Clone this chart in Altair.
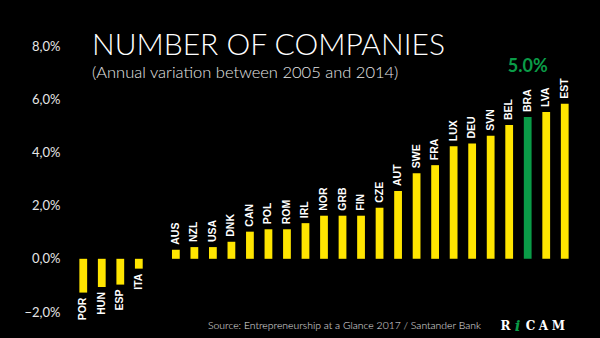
import altair as alt
import pandas as pd

# ---- data ----
countries = ["POR", "HUN", "ESP", "ITA", "AUS", "NZL", "USA", "DNK", "CAN", "POL",
             "ROM", "IRL", "NOR", "GRB", "FIN", "CZE", "AUT", "SWE", "FRA", "LUX",
             "DEU", "SVN", "BEL", "BRA", "LVA", "EST"]
values = [-1.27, -1.06, -0.97, -0.37, 0.34, 0.44, 0.44, 0.64, 1.02, 1.11,
          1.11, 1.34, 1.62, 1.62, 1.62, 1.92, 2.55, 3.22, 3.52, 4.23,
          4.33, 4.63, 5.03, 5.33, 5.52, 5.83]
x_order = countries[:4] + [" "] + countries[4:]   # empty slot between ITA and AUS
y_ticks = [-2, 0, 2, 4, 6, 8]
highlight = "BRA"
highlight_label = "5.0%"
title_text = "NUMBER OF COMPANIES"
subtitle_text = "(Annual variation between 2005 and 2014)"
source_text = "Source: Entrepreneurship at a Glance 2017 / Santander Bank"
logo_letters = ["R", "i", "C", "A", "M"]

YELLOW = "#FFE500"
GREEN = "#0A9B47"

df = pd.DataFrame({"country": countries, "value": values})

x_enc = alt.X("country:N", sort=x_order,
              scale=alt.Scale(domain=x_order, paddingInner=0.58, paddingOuter=0.29),
              axis=None)
y_scale = alt.Scale(domain=[-2, 8], nice=False, zero=False)

base = alt.Chart(df)

bars = base.mark_bar().encode(
    x=x_enc,
    y=alt.Y("value:Q", scale=y_scale,
            axis=alt.Axis(values=y_ticks, grid=False, domain=False, ticks=False,
                          labelExpr="replace(format(datum.value, '.1f'), '.', ',') + '%'",
                          labelColor="#E6E6E6", labelFont="Lato", labelFontSize=13,
                          labelPadding=14, title=None)),
    y2=alt.datum(0),
    color=alt.condition(alt.datum.country == highlight, alt.value(GREEN), alt.value(YELLOW)),
)

lab_pos = base.transform_filter("datum.value >= 0").mark_text(
    angle=270, align="left", baseline="middle", dx=5,
    font="Liberation Sans", fontWeight="bold", fontSize=10.5, color="white"
).encode(x=x_enc, y=alt.Y("value:Q", scale=y_scale), text="country:N")

lab_neg = base.transform_filter("datum.value < 0").mark_text(
    angle=270, align="right", baseline="middle", dx=-5,
    font="Liberation Sans", fontWeight="bold", fontSize=10.5, color="white"
).encode(x=x_enc, y=alt.Y("value:Q", scale=y_scale), text="country:N")

hl = alt.Chart(pd.DataFrame({"country": [highlight], "t": [highlight_label]})).mark_text(
    font="Lato", fontWeight="bold", fontSize=18, color=GREEN, baseline="middle", align="center"
).encode(x=x_enc, y=alt.value(21), text="t:N")

title = alt.Chart(pd.DataFrame({"t": [title_text]})).mark_text(
    font="Lato", fontWeight=300, fontSize=30, color="white", align="left", baseline="alphabetic"
).encode(x=alt.value(18), y=alt.value(9), text="t:N")

subtitle = alt.Chart(pd.DataFrame({"t": [subtitle_text]})).mark_text(
    font="Lato", fontWeight=300, fontSize=16.5, color="#E6E6E6", align="left", baseline="alphabetic"
).encode(x=alt.value(18), y=alt.value(32), text="t:N")

source = alt.Chart(pd.DataFrame({"t": [source_text]})).mark_text(
    font="Lato", fontWeight=300, fontSize=10.4, color="#E6E6E6", align="left", baseline="middle"
).encode(x=alt.value(134), y=alt.value(280), text="t:N")

logo_x = [431.5, 443.5, 456.5, 469.5, 484.5]
logo_layers = []
for letter, lx in zip(logo_letters, logo_x):
    is_i = letter == "i"
    logo_layers.append(
        alt.Chart(pd.DataFrame({"t": [letter]})).mark_text(
            font="DejaVu Serif", fontWeight="bold", fontSize=15 if is_i else 12,
            fontStyle="italic" if is_i else "normal",
            color=GREEN if is_i else "white", align="center", baseline="middle"
        ).encode(x=alt.value(lx), y=alt.value(280), text="t:N")
    )

chart = alt.layer(bars, lab_pos, lab_neg, hl, title, subtitle, source, *logo_layers).properties(
    width=500, height=266,
    background="black",
    autosize=alt.AutoSizeParams(type="none"),
    padding={"left": 74, "top": 46, "right": 26, "bottom": 26},
).configure_view(stroke=None)

chart.save("out.html", embed_options={"renderer": "svg", "actions": False})
